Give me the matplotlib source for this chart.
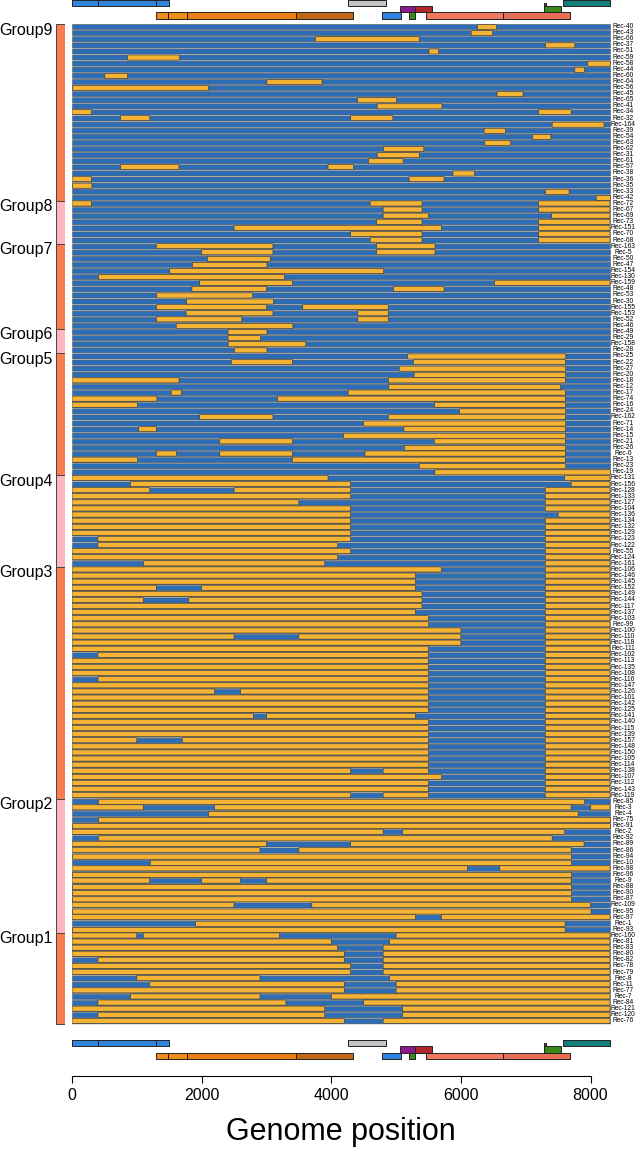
import numpy as np
import matplotlib.pyplot as plt

plt.rcParams['font.family'] = ['Liberation Sans', 'DejaVu Sans']

genome_len = 8300

group_names = ['Group9', 'Group8', 'Group7', 'Group6', 'Group5',
               'Group4', 'Group3', 'Group2', 'Group1']
group_sizes = [29, 7, 14, 4, 20, 15, 38, 22, 15]
group_colors = ['#F97D4E', '#FFB6C1'] * 5

row_labels = [
    'Rec-40', 'Rec-43', 'Rec-66', 'Rec-37', 'Rec-51', 'Rec-59', 'Rec-58', 'Rec-44', 'Rec-60', 'Rec-64',
    'Rec-56', 'Rec-45', 'Rec-65', 'Rec-41', 'Rec-34', 'Rec-32', 'Rec-164', 'Rec-39', 'Rec-54', 'Rec-63',
    'Rec-62', 'Rec-31', 'Rec-61', 'Rec-57', 'Rec-38', 'Rec-36', 'Rec-35', 'Rec-33', 'Rec-42',
    'Rec-72', 'Rec-67', 'Rec-69', 'Rec-73', 'Rec-151', 'Rec-70', 'Rec-68',
    'Rec-163', 'Rec-5', 'Rec-50', 'Rec-47', 'Rec-154', 'Rec-130', 'Rec-159', 'Rec-48', 'Rec-53', 'Rec-30',
    'Rec-155', 'Rec-153', 'Rec-52', 'Rec-46',
    'Rec-49', 'Rec-29', 'Rec-158', 'Rec-28',
    'Rec-25', 'Rec-22', 'Rec-27', 'Rec-20', 'Rec-18', 'Rec-12', 'Rec-17', 'Rec-74', 'Rec-16', 'Rec-24',
    'Rec-162', 'Rec-71', 'Rec-14', 'Rec-15', 'Rec-21', 'Rec-26', 'Rec-6', 'Rec-13', 'Rec-23', 'Rec-19',
    'Rec-131', 'Rec-156', 'Rec-128', 'Rec-133', 'Rec-127', 'Rec-104', 'Rec-136', 'Rec-134', 'Rec-132',
    'Rec-129', 'Rec-123', 'Rec-122', 'Rec-55', 'Rec-124', 'Rec-161',
    'Rec-106', 'Rec-146', 'Rec-145', 'Rec-152', 'Rec-149', 'Rec-144', 'Rec-117', 'Rec-137', 'Rec-103',
    'Rec-99', 'Rec-100', 'Rec-110', 'Rec-118', 'Rec-111', 'Rec-102', 'Rec-113', 'Rec-135', 'Rec-108',
    'Rec-116', 'Rec-147', 'Rec-126', 'Rec-101', 'Rec-142', 'Rec-125', 'Rec-141', 'Rec-140', 'Rec-115',
    'Rec-139', 'Rec-157', 'Rec-148', 'Rec-150', 'Rec-105', 'Rec-114', 'Rec-138', 'Rec-107', 'Rec-112',
    'Rec-143', 'Rec-119',
    'Rec-85', 'Rec-3', 'Rec-4', 'Rec-75', 'Rec-91', 'Rec-2', 'Rec-92', 'Rec-89', 'Rec-86', 'Rec-94',
    'Rec-10', 'Rec-98', 'Rec-96', 'Rec-9', 'Rec-88', 'Rec-90', 'Rec-87', 'Rec-109', 'Rec-95', 'Rec-97',
    'Rec-1', 'Rec-93',
    'Rec-160', 'Rec-81', 'Rec-83', 'Rec-80', 'Rec-82', 'Rec-78', 'Rec-79', 'Rec-8', 'Rec-11', 'Rec-77',
    'Rec-7', 'Rec-84', 'Rec-121', 'Rec-120', 'Rec-76']

# orange (minor parent) stretches in each recombinant, rest is blue
orange_segs = [
    # Group9
    [(6250, 6540)], [(6150, 6480)], [(3750, 5350)], [(7300, 7750)], [(5500, 5650)],
    [(850, 1650)], [(7950, 8300)], [(7750, 7900)], [(500, 850)], [(3000, 3850)],
    [(0, 2100)], [(6550, 6950)], [(4400, 5000)], [(4700, 5700)], [(0, 300), (7200, 7700)],
    [(750, 1200), (4300, 4950)], [(7400, 8200)], [(6350, 6680)], [(7100, 7380)], [(6360, 6760)],
    [(4800, 5420)], [(4700, 5350)], [(4570, 5100)], [(750, 1650), (3950, 4340)], [(5870, 6200)],
    [(0, 300), (5200, 5740)], [(0, 300)], [(7300, 7660)], [(8080, 8300)],
    # Group8
    [(0, 300), (4600, 5400), (7200, 8300)], [(4800, 5400), (7200, 8300)], [(4800, 5500), (7400, 8300)],
    [(4700, 5400), (7200, 8300)], [(2500, 5700), (7200, 8300)], [(4300, 5400), (7200, 8300)],
    [(4600, 5400), (7200, 8300)],
    # Group7
    [(1300, 3100), (4700, 5600)], [(2000, 3100), (4700, 5600)], [(2080, 3050)], [(1850, 3000)],
    [(1500, 4800)], [(400, 3270)], [(1970, 3400), (6520, 8300)], [(1850, 3000), (4960, 5740)],
    [(1300, 2780)], [(1760, 3100)], [(1300, 3000), (3560, 4880)], [(1760, 3100), (4410, 4880)],
    [(1300, 2620), (4410, 4880)], [(1600, 3400)],
    # Group6
    [(2400, 3000)], [(2400, 2900)], [(2400, 3600)], [(2500, 3000)],
    # Group5
    [(5170, 7610)], [(2460, 3400), (5270, 7610)], [(5040, 7610)], [(5270, 7610)],
    [(0, 1650), (4880, 7610)], [(4880, 7530)], [(1530, 1690), (4260, 7610)], [(0, 1310), (3170, 7610)],
    [(0, 1010), (5590, 7610)], [(5970, 7610)], [(1970, 3100), (4880, 7610)], [(4490, 7610)],
    [(1030, 1300), (5120, 7610)], [(4180, 7610)], [(2280, 3400), (5590, 7610)], [(5120, 7610)],
    [(1300, 1610), (2280, 3400), (4520, 7610)], [(0, 1010), (3400, 7610)], [(5350, 7610)],
    [(5590, 8300)],
    # Group4
    [(0, 3950), (7600, 8300)], [(900, 4300), (7700, 8300)], [(0, 1200), (2500, 4300), (7300, 8300)],
    [(0, 4300), (7300, 8300)], [(0, 3500), (7300, 8300)], [(0, 4300), (7300, 8300)],
    [(0, 4300), (7500, 8300)], [(0, 4300), (7300, 8300)], [(0, 4300), (7300, 8300)],
    [(0, 4300), (7300, 8300)], [(400, 4300), (7300, 8300)], [(400, 4100), (7300, 8300)],
    [(0, 4300), (7300, 8300)], [(0, 4100), (7300, 8300)], [(1100, 3900), (7300, 8300)],
    # Group3
    [(0, 5700), (7300, 8300)], [(0, 5300), (7300, 8300)], [(0, 5300), (7300, 8300)],
    [(0, 1300), (2000, 5300), (7300, 8300)], [(0, 5400), (7300, 8300)], [(0, 1100), (1800, 5400), (7300, 8300)],
    [(0, 5400), (7300, 8300)], [(0, 5300), (7300, 8300)], [(0, 5500), (7300, 8300)],
    [(0, 5500), (7300, 8300)], [(0, 6000), (7300, 8300)], [(0, 2500), (3500, 6000), (7300, 8300)],
    [(0, 6000), (7300, 8300)], [(0, 5500), (7300, 8300)], [(400, 5500), (7300, 8300)],
    [(0, 5500), (7300, 8300)], [(0, 5500), (7300, 8300)], [(0, 5500), (7300, 8300)],
    [(400, 5500), (7300, 8300)], [(0, 5500), (7300, 8300)], [(0, 2200), (2600, 5500), (7300, 8300)],
    [(0, 5500), (7300, 8300)], [(0, 5500), (7300, 8300)], [(0, 5500), (7300, 8300)],
    [(0, 2800), (3000, 5300), (7300, 8300)], [(0, 5500), (7300, 8300)], [(0, 5500), (7300, 8300)],
    [(0, 5500), (7300, 8300)], [(0, 1000), (1700, 5500), (7300, 8300)], [(0, 5500), (7300, 8300)],
    [(0, 5500), (7300, 8300)], [(0, 5500), (7300, 8300)], [(0, 5500), (7300, 8300)],
    [(0, 4300), (4800, 5500), (7300, 8300)], [(0, 5700), (7300, 8300)], [(0, 5500), (7300, 8300)],
    [(0, 5500), (7300, 8300)], [(0, 4300), (4800, 5500), (7300, 8300)],
    # Group2
    [(400, 7900)], [(0, 1100), (2200, 7700), (8000, 8300)], [(2100, 7800)], [(400, 8300)],
    [(0, 8300)], [(0, 4800), (5100, 7600)], [(400, 7400)], [(0, 3000), (4300, 7900)],
    [(0, 2900), (3500, 7700)], [(0, 7700)], [(1200, 7700)], [(0, 6100), (6600, 8300)],
    [(0, 7700)], [(0, 1200), (2000, 2600), (3000, 7700)], [(0, 7700)], [(0, 7700)],
    [(0, 7700)], [(0, 2500), (3700, 8000)], [(0, 8000)], [(0, 5300), (5700, 8300)],
    [(1900, 7600)], [(0, 7600)],
    # Group1
    [(0, 1000), (1100, 3200), (5000, 8300)], [(0, 4000), (4900, 8300)], [(0, 4100), (4800, 8300)],
    [(0, 4200), (4800, 8300)], [(400, 4200), (4800, 8300)], [(0, 4300), (4800, 8300)],
    [(0, 4300), (4800, 8300)], [(1000, 2900), (4900, 8300)], [(1200, 4200), (5000, 8300)],
    [(0, 4200), (5000, 8300)], [(900, 2900), (4000, 8300)], [(400, 3300), (4500, 8300)],
    [(0, 3900), (5100, 8300)], [(400, 3900), (5100, 8300)], [(0, 4200), (4800, 8300)],
]

# genome annotation: start, end, level (0 top, 1 middle, 2 bottom), colour
gene_start = [0, 400, 1300, 4260, 7275, 7580, 5060, 5290, 7275, 1300, 1475, 1770, 3450, 4790, 5200, 5465, 6655]
gene_end = [400, 1300, 1500, 4840, 7310, 8300, 5290, 5550, 7550, 1475, 1770, 3450, 4330, 5080, 5285, 6655, 7690]
gene_level = [0, 0, 0, 0, 0.5, 0, 1, 1, 1, 2, 2, 2, 2, 2, 2, 2, 2]
gene_color = ['#2F86DE', '#2F86DE', '#2F86DE', '#C4C4C4', '#8A1A8A', '#0E8078', '#8A1A8A', '#B0282A',
              '#3A8A1A', '#F28A1C', '#F28A1C', '#E87E14', '#C2661A', '#2F86DE', '#3A8A1A', '#EF7A62',
              '#E86E55']

blue = '#2D6DB5'
orange = '#F4B334'

fig = plt.figure(figsize=(6.36, 11.55), dpi=100)
ax = fig.add_axes([72 / 636, (1155 - 1076) / 1155, (610 - 72) / 636, 1076 / 1155])
ax.set_xlim(0, genome_len)
ax.set_ylim(1076, 0)

row_top = 24
pitch = 6.1
bar_h = 5.1

for i, lab in enumerate(row_labels):
    y0 = row_top + i * pitch
    ax.broken_barh([(0, genome_len)], (y0, bar_h), facecolors=blue, edgecolor='#555555',
                   linewidth=0.4, snap=False)
    segs = [(s, e - s) for s, e in orange_segs[i]]
    ax.broken_barh(segs, (y0, bar_h), facecolors=orange, edgecolor='#333333',
                   linewidth=0.4, snap=False)
    ax.text(1.024, y0 + bar_h / 2, lab, transform=ax.get_yaxis_transform(), fontsize=4.8,
            ha='center', va='center', clip_on=False)

# genome maps, top and bottom
level_h = 6.4
for base in [0, 1040]:
    for s, e, lv, c in zip(gene_start, gene_end, gene_level, gene_color):
        h = level_h if lv != 0.5 else level_h * 1.1
        yy = base + lv * level_h - (0.5 if base == 0 else 0)
        ax.broken_barh([(s, e - s)], (yy, h), facecolors=c, edgecolor='#222222', linewidth=0.7,
                       clip_on=False)

# group strip on the left
ax_g = fig.add_axes([56 / 636, (1155 - 1076) / 1155, 9 / 636, 1076 / 1155])
ax_g.set_xlim(0, 1)
ax_g.set_ylim(1076, 0)
ax_g.axis('off')
start = 0
for name, n, c in zip(group_names, group_sizes, group_colors):
    y0 = row_top + start * pitch
    ax_g.bar(0.5, n * pitch, bottom=y0, width=1, color=c, edgecolor='#444444', linewidth=0.7)
    ax_g.text(-0.35, y0 + 6, name, ha='right', va='center', fontsize=11.5)
    start += n

for side in ['top', 'right', 'left']:
    ax.spines[side].set_visible(False)
ax.spines['bottom'].set_bounds(0, 8000)
ax.spines['bottom'].set_linewidth(0.8)
ax.set_yticks([])
ax.set_xticks([0, 2000, 4000, 6000, 8000])
ax.tick_params(axis='x', labelsize=11.5, length=5, width=0.8, pad=4)
ax.set_xlabel('Genome position', fontsize=22, labelpad=10)

fig.savefig('out.png', dpi=100)
